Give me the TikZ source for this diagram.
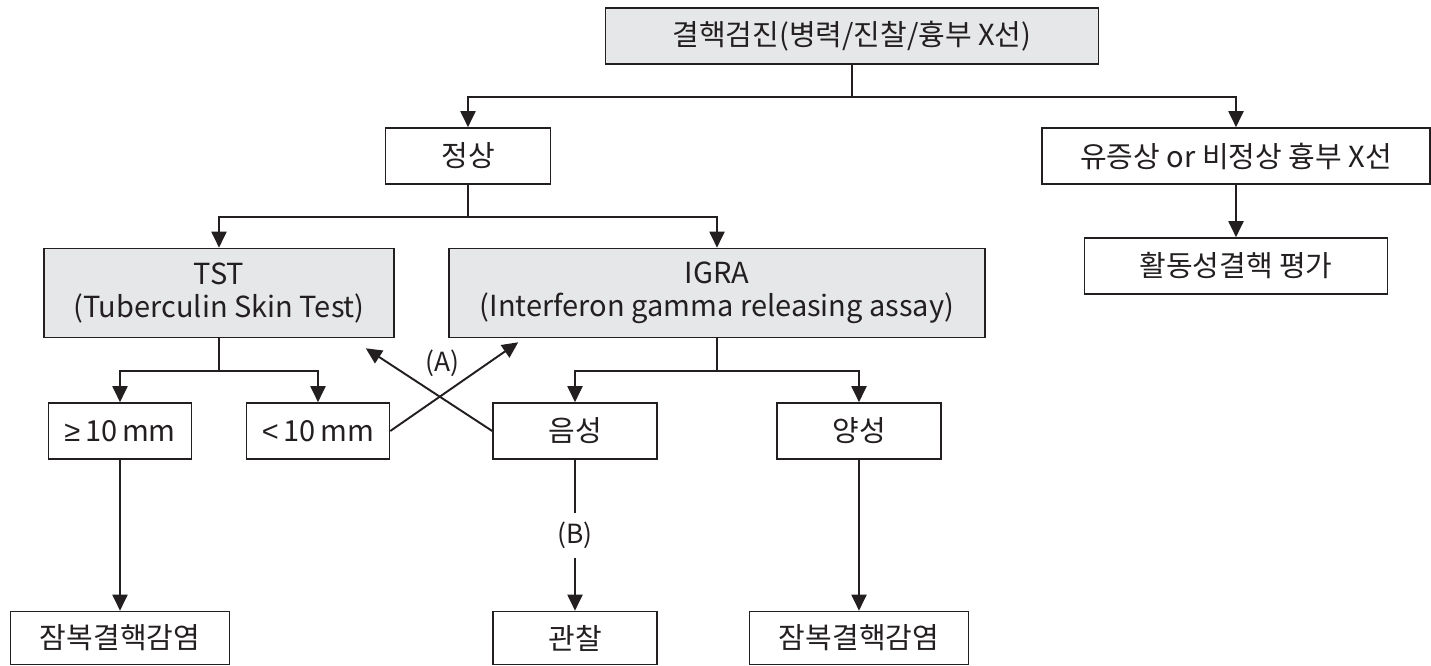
\documentclass[tikz,border=0pt]{standalone}
\usepackage{fontspec}
\setmainfont{Noto Sans CJK KR}
\newfontfamily\symfont{Liberation Sans}
\usetikzlibrary{positioning,arrows.meta}
\definecolor{ink}{HTML}{231F20}
\definecolor{boxgray}{HTML}{E6E7E8}

\begin{document}
\begin{tikzpicture}[
    on grid,
    every node/.style={font=\fontsize{16.5}{18.7}\selectfont, text=ink},
    box/.style={draw=ink, line width=0.9pt, fill=white, inner sep=2pt, minimum height=1.12cm},
    graybox/.style={box, fill=boxgray},
    arr/.style={draw=ink, line width=1.1pt, -{Triangle[length=0.32cm, width=0.3cm]}},
    lbl/.style={inner sep=1pt, font=\fontsize{15}{17}\selectfont}
]
    \useasboundingbox (0,0) rectangle (28.62,-13.32);
    \node[graybox, minimum width=9.86cm] (top) at (17.04,-0.72) {결핵검진(병력/진찰/흉부 X선)};
    \node[box, minimum width=3.3cm, below left=2.4cm and 7.68cm of top] (jeongsang) {정상};
    \node[box, minimum width=7.76cm, below right=2.4cm and 7.68cm of top] (yujeung) {유증상 or 비정상 흉부 X선};
    \node[box, minimum width=6.06cm, below=2.2cm of yujeung] (hwaldong) {활동성결핵 평가};
    \node[graybox, minimum width=7cm, minimum height=1.78cm, align=center, below left=2.74cm and 4.98cm of jeongsang] (tst) {TST\\(Tuberculin Skin Test)};
    \node[graybox, minimum width=10.72cm, minimum height=1.78cm, align=center, below right=2.74cm and 4.98cm of jeongsang] (igra) {IGRA\\(Interferon gamma releasing assay)};
    \node[box, minimum width=2.86cm, below left=2.76cm and 1.98cm of tst] (ge10) {{\symfont ≥}\,10\,mm};
    \node[box, minimum width=2.86cm, below right=2.76cm and 1.98cm of tst] (lt10) {{\symfont <}\,10\,mm};
    \node[box, minimum width=3.28cm, below left=2.76cm and 2.84cm of igra] (eumseong) {음성};
    \node[box, minimum width=3.28cm, below right=2.76cm and 2.84cm of igra] (yangseong) {양성};
    \node[box, minimum width=4.38cm, minimum height=1.06cm, below=4.14cm of ge10] (jambokL) {잠복결핵감염};
    \node[box, minimum width=3.28cm, minimum height=1.06cm, below=4.14cm of eumseong] (gwanchal) {관찰};
    \node[box, minimum width=4.38cm, minimum height=1.06cm, below=4.14cm of yangseong] (jambokR) {잠복결핵감염};

    \draw[arr] (top.south) -- ++(0,-0.65) -| (jeongsang.north);
    \draw[arr] (top.south) -- ++(0,-0.65) -| (yujeung.north);
    \draw[arr] (yujeung.south) -- (hwaldong.north);
    \draw[arr] (jeongsang.south) -- ++(0,-0.65) -| (tst.north);
    \draw[arr] (jeongsang.south) -- ++(0,-0.65) -| (igra.north);
    \draw[arr] (tst.south) -- ++(0,-0.65) -| (ge10.north);
    \draw[arr] (tst.south) -- ++(0,-0.65) -| (lt10.north);
    \draw[arr] (igra.south) -- ++(0,-0.65) -| (eumseong.north);
    \draw[arr] (igra.south) -- ++(0,-0.65) -| (yangseong.north);
    \draw[arr] (ge10.south) -- (jambokL.north);
    \draw[arr] (eumseong.south) -- (gwanchal.north) node[lbl, fill=white, inner ysep=0.18cm, midway] {(B)};
    \draw[arr] (yangseong.south) -- (jambokR.north);
    % (A): crossing arrows
    \draw[arr] (lt10.east) -- ([xshift=1.4cm, yshift=-0.08cm]igra.south west) node[lbl, pos=0.41, above=0.3cm] {(A)};
    \draw[arr] (eumseong.west) -- ([xshift=-0.58cm, yshift=-0.2cm]tst.south east);
\end{tikzpicture}
\end{document}
